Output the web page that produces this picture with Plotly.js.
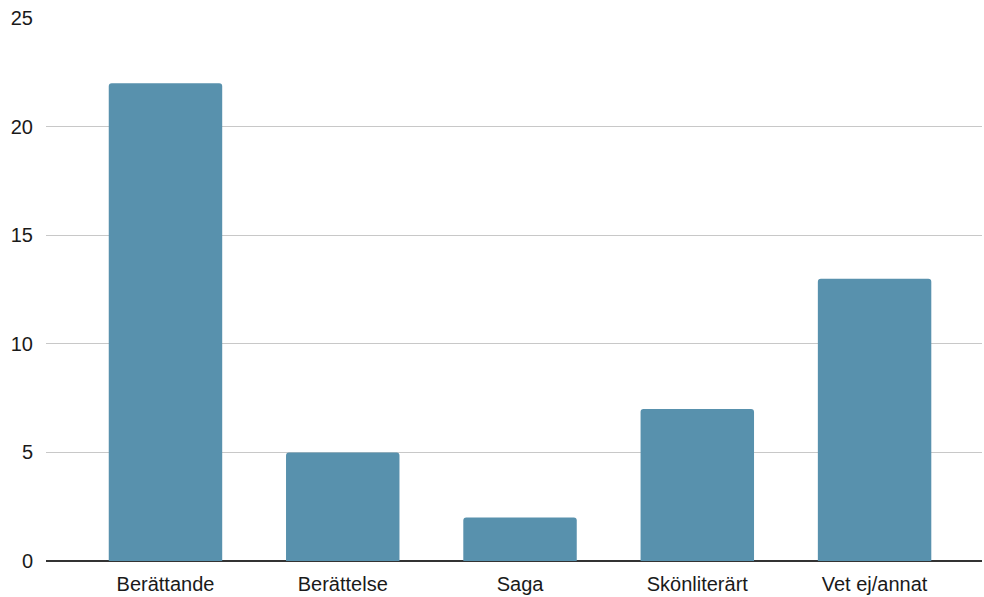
<!DOCTYPE html>
<html>
<head>
<meta charset="utf-8">
<script src="https://cdn.plot.ly/plotly-3.0.1.min.js"></script>
<style>
  html, body { margin: 0; padding: 0; background: #fff; }
  #chart { width: 984px; height: 597px; }
</style>
</head>
<body>
<div id="chart"></div>
<script>
// Text-type categories and how many answers each received
const categories = ["Berättande", "Berättelse", "Saga", "Skönliterärt", "Vet ej/annat"];
const counts = [22, 5, 2, 7, 13];
const yTicks = [0, 5, 10, 15, 20, 25];

const trace = {
  type: "bar",
  x: categories,
  y: counts,
  marker: { color: "#5891ad", cornerradius: 3 },
  hoverinfo: "x+y"
};

const layout = {
  width: 984,
  height: 597,
  margin: { l: 46, r: 2, t: 18, b: 36 },
  paper_bgcolor: "#ffffff",
  plot_bgcolor: "#ffffff",
  bargap: 0.36,
  showlegend: false,
  font: { family: "'Liberation Sans', Arial, sans-serif", color: "#1a1a1a", size: 20 },
  xaxis: {
    type: "category",
    range: [-0.674, 4.606],
    showgrid: false,
    showline: false,
    ticks: "",
    ticklabelstandoff: 9,
    tickfont: { size: 20, color: "#1a1a1a" },
    fixedrange: true
  },
  yaxis: {
    range: [0, 25],
    tickvals: yTicks,
    ticktext: yTicks.map(String),
    showgrid: true,
    gridcolor: "#c8c8c8",
    gridwidth: 1.3,
    zeroline: true,
    zerolinecolor: "#333333",
    zerolinewidth: 1.5,
    showline: false,
    ticks: "",
    ticklabelstandoff: 12,
    tickfont: { size: 20, color: "#1a1a1a" },
    fixedrange: true
  }
};

Plotly.newPlot("chart", [trace], layout, { displayModeBar: false, staticPlot: true });
</script>
</body>
</html>
